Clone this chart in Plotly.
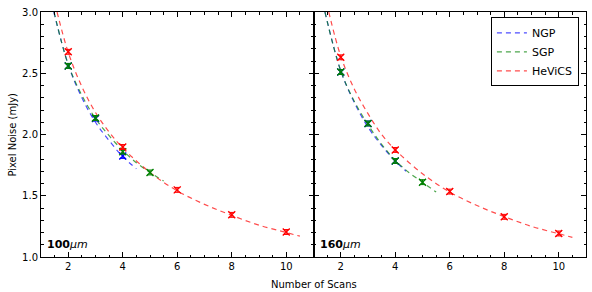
import plotly.graph_objects as go
from plotly.subplots import make_subplots

# ---------------- data ----------------
# 100 micron panel: measured points
ngp100_n = [2, 3, 4]
ngp100_v = [2.56, 2.13, 1.825]
sgp100_n = [2, 3, 4, 5]
sgp100_v = [2.56, 2.135, 1.86, 1.69]
hev100_n = [2, 4, 6, 8, 10]
hev100_v = [2.675, 1.898, 1.548, 1.344, 1.204]

# 100 micron panel: dashed fit curves
ngp100_fit_n = [1.47, 2.0, 2.5, 3.0, 3.5, 4.0, 4.5]
ngp100_fit_v = [3.0, 2.57, 2.30, 2.10, 1.95, 1.82, 1.72]
sgp100_fit_n = [1.48, 2.0, 2.5, 3.0, 3.5, 4.0, 4.5, 5.0, 5.5]
sgp100_fit_v = [3.0, 2.57, 2.32, 2.13, 1.99, 1.87, 1.77, 1.69, 1.62]
hev100_fit_n = [1.59, 2.0, 2.5, 3.0, 3.5, 4.0, 5.0, 6.0, 7.0, 8.0, 9.0, 10.0, 10.5]
hev100_fit_v = [3.0, 2.67, 2.39, 2.18, 2.02, 1.89, 1.69, 1.54, 1.43, 1.34, 1.26, 1.20, 1.17]

# 160 micron panel: measured points
ngp160_n = [2, 3, 4]
ngp160_v = [2.51, 2.09, 1.784]
sgp160_n = [2, 3, 4, 5]
sgp160_v = [2.51, 2.09, 1.784, 1.611]
hev160_n = [2, 4, 6, 8, 10]
hev160_v = [2.63, 1.874, 1.534, 1.328, 1.192]

# 160 micron panel: dashed fit curves
ngp160_fit_n = [1.42, 2.0, 2.5, 3.0, 3.5, 4.0, 4.4]
ngp160_fit_v = [3.0, 2.52, 2.26, 2.06, 1.91, 1.785, 1.70]
sgp160_fit_n = [1.42, 2.0, 2.5, 3.0, 3.5, 4.0, 4.5, 5.0, 5.5]
sgp160_fit_v = [3.0, 2.52, 2.27, 2.08, 1.92, 1.79, 1.69, 1.61, 1.53]
hev160_fit_n = [1.56, 2.0, 2.5, 3.0, 3.5, 4.0, 5.0, 6.0, 7.0, 8.0, 9.0, 10.0, 10.5]
hev160_fit_v = [3.0, 2.64, 2.37, 2.17, 2.00, 1.875, 1.68, 1.53, 1.42, 1.33, 1.25, 1.19, 1.16]

series_names = ["NGP", "SGP", "HeViCS"]
panel_labels = ["<b>100</b><i>μm</i>", "<b>160</b><i>μm</i>"]
x_ticks = [2, 4, 6, 8, 10]
y_ticks = [1.0, 1.5, 2.0, 2.5, 3.0]
y_tick_text = ["1.0", "1.5", "2.0", "2.5", "3.0"]

# ---------------- styles ----------------
line_cols = ["rgba(0,0,255,0.7)", "rgba(0,128,0,0.7)", "rgba(255,0,0,0.7)"]
mark_cols = ["#0000ff", "#008000", "#ff0000"]
FONT = "DejaVu Sans"

fig = make_subplots(rows=1, cols=2, shared_yaxes=True, horizontal_spacing=0)

panels = [
    [(ngp100_fit_n, ngp100_fit_v, ngp100_n, ngp100_v),
     (sgp100_fit_n, sgp100_fit_v, sgp100_n, sgp100_v),
     (hev100_fit_n, hev100_fit_v, hev100_n, hev100_v)],
    [(ngp160_fit_n, ngp160_fit_v, ngp160_n, ngp160_v),
     (sgp160_fit_n, sgp160_fit_v, sgp160_n, sgp160_v),
     (hev160_fit_n, hev160_fit_v, hev160_n, hev160_v)],
]

for p, panel in enumerate(panels):
    col = p + 1
    for i, (fn, fv, n, v) in enumerate(panel):
        fig.add_trace(go.Scatter(
            x=fn, y=fv, mode="lines", line=dict(color=line_cols[i], width=1.2, dash="5px,4px", shape="spline"),
            name=series_names[i], showlegend=(p == 1), hoverinfo="skip"),
            row=1, col=col)
    for i, (fn, fv, n, v) in enumerate(panel):
        fig.add_trace(go.Scatter(
            x=n, y=v, mode="markers",
            marker=dict(symbol="x-thin", size=7, line=dict(color=mark_cols[i], width=1.4)),
            error_y=dict(type="constant", value=0.02, color=mark_cols[i], thickness=1, width=3),
            showlegend=False),
            row=1, col=col)

fig.update_xaxes(
    range=[1, 11], tickvals=x_ticks, ticks="inside", ticklen=5, tickcolor="black", automargin=False,
    showline=True, linecolor="black", linewidth=1, mirror="ticks", showgrid=False, zeroline=False,
    minor=dict(dtick=0.5, ticks="inside", ticklen=2.5, tickcolor="black", showgrid=False),
    tickfont=dict(family=FONT, size=10, color="black"),
)
fig.update_yaxes(
    range=[1.0, 3.0], tickvals=y_ticks, ticktext=y_tick_text, ticks="inside", ticklen=5, tickcolor="black",
    automargin=False,
    showline=True, linecolor="black", linewidth=1, mirror="ticks", showgrid=False, zeroline=False,
    minor=dict(dtick=0.1, ticks="inside", ticklen=2.5, tickcolor="black", showgrid=False),
    tickfont=dict(family=FONT, size=10, color="black"),
)
fig.update_yaxes(showticklabels=False, row=1, col=2)

for p, lab in enumerate(panel_labels):
    xr = "x domain" if p == 0 else "x2 domain"
    yr = "y domain" if p == 0 else "y2 domain"
    fig.add_annotation(text=lab, xref=xr, yref=yr, x=0.015, y=0.015, xanchor="left", yanchor="bottom",
                       showarrow=False, font=dict(family=FONT, size=11, color="black"))

fig.add_annotation(text="Number of Scans", xref="paper", yref="paper", x=0.5, y=-0.08,
                   xanchor="center", yanchor="top", showarrow=False,
                   font=dict(family=FONT, size=10, color="black"))
fig.add_annotation(text="Pixel Noise (mJy)", xref="paper", yref="paper", x=-0.053, y=0.5,
                   xanchor="center", yanchor="middle", textangle=-90, showarrow=False,
                   font=dict(family=FONT, size=10, color="black"))

fig.update_layout(
    width=592, height=292,
    margin=dict(l=41, r=6, t=12, b=35, autoexpand=False),
    paper_bgcolor="white", plot_bgcolor="white",
    font=dict(family=FONT, size=10, color="black"),
    legend=dict(x=0.987, y=0.978, xanchor="right", yanchor="top",
                bordercolor="black", borderwidth=1, bgcolor="white",
                font=dict(family=FONT, size=11, color="black"),
                tracegroupgap=0, itemwidth=30),
    showlegend=True,
)

fig.write_html("out.html", config={"displayModeBar": False},
               post_script="document.body.style.margin='0';document.body.style.overflow='hidden';")
